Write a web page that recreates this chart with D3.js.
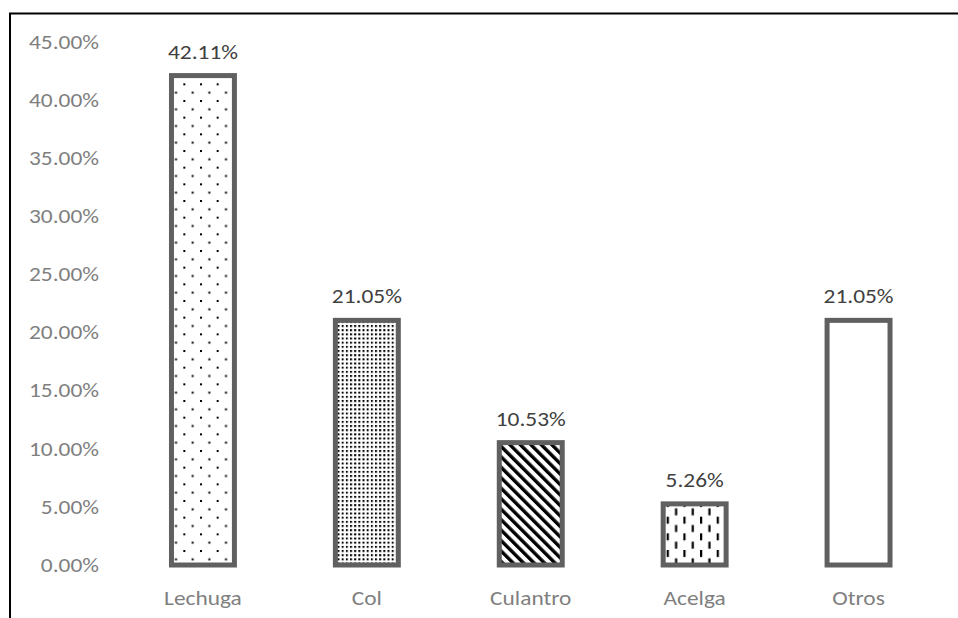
<!DOCTYPE html>
<html>
<head>
<meta charset="utf-8">
<script src="https://cdn.jsdelivr.net/npm/d3@7"></script>
<style>
  html, body { margin: 0; padding: 0; background: #fff; }
  svg { display: block; }
</style>
</head>
<body>
<svg id="chart" width="958" height="618"></svg>
<script>
// Share of respondents by vegetable grown
const categories = ["Lechuga", "Col", "Culantro", "Acelga", "Otros"];
const shares = [42.11, 21.05, 10.53, 5.26, 21.05];
const fills = ["sparseDots", "denseDots", "diagStripes", "vertDashes", "none"];
const yTicks = [0, 5, 10, 15, 20, 25, 30, 35, 40, 45];

const W = 958, H = 618;
const FONT = "Carlito, Lato, 'Open Sans', sans-serif";
const FS = 19.5;      // label font size
const FW = 300;       // label font weight
const SX = 1.2;       // horizontal widening of label glyphs
const svg = d3.select("#chart");

// Hatch fills, drawn as small repeating tiles
const defs = svg.append("defs");
const u = 16.667;

const p1 = defs.append("pattern").attr("id", "sparseDots")
  .attr("patternUnits", "userSpaceOnUse").attr("width", u).attr("height", u);
p1.append("rect").attr("width", u).attr("height", u).attr("fill", "#fff");
p1.append("rect").attr("x", 0).attr("y", 0).attr("width", 2).attr("height", 2).attr("fill", "#000");
p1.append("rect").attr("x", u / 2).attr("y", u / 2).attr("width", 2).attr("height", 2).attr("fill", "#000");

const d = u / 4;
const p2 = defs.append("pattern").attr("id", "denseDots")
  .attr("patternUnits", "userSpaceOnUse").attr("width", d).attr("height", d);
p2.append("rect").attr("width", d).attr("height", d).attr("fill", "#fff");
p2.append("rect").attr("x", 0).attr("y", 0).attr("width", 2).attr("height", 2).attr("fill", "#000");

const s = 7.4;
const p3 = defs.append("pattern").attr("id", "diagStripes")
  .attr("patternUnits", "userSpaceOnUse").attr("width", s).attr("height", s)
  .attr("patternTransform", "rotate(-45)");
p3.append("rect").attr("width", s).attr("height", s).attr("fill", "#fff");
p3.append("rect").attr("x", 0).attr("y", 0).attr("width", 3.4).attr("height", s).attr("fill", "#000");

const p4 = defs.append("pattern").attr("id", "vertDashes")
  .attr("patternUnits", "userSpaceOnUse").attr("width", u).attr("height", u);
p4.append("rect").attr("width", u).attr("height", u).attr("fill", "#fff");
p4.append("rect").attr("x", 0).attr("y", 0).attr("width", 2.2).attr("height", 7).attr("fill", "#000");
p4.append("rect").attr("x", u / 2).attr("y", u / 2).attr("width", 2.2).attr("height", 7).attr("fill", "#000");

// Outer frame: left and top rules
svg.append("line").attr("x1", 10).attr("x2", 10).attr("y1", 13).attr("y2", H)
  .attr("stroke", "#000").attr("stroke-width", 2);
svg.append("line").attr("x1", 9).attr("x2", W).attr("y1", 13.5).attr("y2", 13.5)
  .attr("stroke", "#000").attr("stroke-width", 2);

// Scales
const x = d3.scaleBand().domain(categories).range([121, 940.5])
  .paddingInner(0.616).paddingOuter(0.308);
const y = d3.scaleLinear().domain([0, 45]).range([565, 42]);

// Value axis labels
const pad = 22;
const yAxis = svg.append("g").attr("transform", "translate(121,0)")
  .call(d3.axisLeft(y).tickValues(yTicks).tickSize(0).tickPadding(pad)
    .tickFormat(v => d3.format(".2%")(v / 100)));
yAxis.select(".domain").remove();
yAxis.selectAll("text").attr("font-family", FONT).attr("font-size", FS)
  .attr("font-weight", FW)
  .attr("fill", "#7f7f7f")
  .attr("x", -pad / SX)
  .attr("transform", `scale(${SX},1)`);

// Category axis labels
const xAxis = svg.append("g").attr("transform", `translate(0,${y(0)})`)
  .call(d3.axisBottom(x).tickSize(0).tickPadding(26));
xAxis.select(".domain").remove();
xAxis.selectAll("text").attr("font-family", FONT).attr("font-size", FS)
  .attr("font-weight", FW)
  .attr("fill", "#7f7f7f")
  .attr("transform", `scale(${SX},1)`);

// Bars
const rows = categories.map((c, i) => ({ c, v: shares[i], f: fills[i] }));
svg.append("g").selectAll("rect").data(rows).join("rect")
  .attr("x", r => x(r.c))
  .attr("y", r => y(r.v))
  .attr("width", x.bandwidth())
  .attr("height", r => y(0) - y(r.v))
  .attr("fill", r => r.f === "none" ? "#fff" : `url(#${r.f})`)
  .attr("stroke", "#606060")
  .attr("stroke-width", 5);

// Value labels above each bar
svg.append("g").selectAll("g").data(rows).join("g")
  .attr("transform", r => `translate(${x(r.c) + x.bandwidth() / 2},${y(r.v) - 17})`)
  .append("text")
  .attr("transform", `scale(${SX},1)`)
  .attr("text-anchor", "middle")
  .attr("font-family", FONT).attr("font-size", FS)
  .attr("font-weight", FW)
  .attr("fill", "#404040")
  .text(r => d3.format(".2%")(r.v / 100));
</script>
</body>
</html>
